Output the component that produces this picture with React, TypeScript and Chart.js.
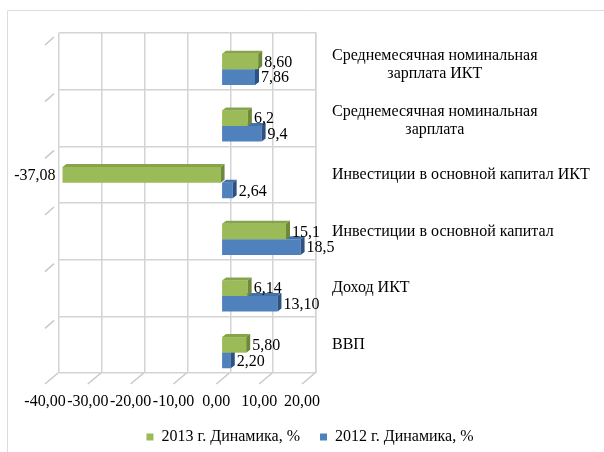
import { useEffect, useRef } from "react";
import { Chart, registerables } from "chart.js";

Chart.register(...registerables);

// ---- data ----
const CATEGORIES: string[][] = [
  ["Среднемесячная номинальная", "зарплата ИКТ"],
  ["Среднемесячная номинальная", "зарплата"],
  ["Инвестиции в основной капитал ИКТ"],
  ["Инвестиции в основной капитал"],
  ["Доход ИКТ"],
  ["ВВП"],
];
const SERIES_NAMES = ["2013 г. Динамика, %", "2012 г. Динамика, %"];
const SERIES_2013 = [8.6, 6.2, -37.08, 15.1, 6.14, 5.8];
const SERIES_2012 = [7.86, 9.4, 2.64, 18.5, 13.1, 2.2];
const LABELS_2013 = ["8,60", "6,2", "-37,08", "15,1", "6,14", "5,80"];
const LABELS_2012 = ["7,86", "9,4", "2,64", "18,5", "13,10", "2,20"];
const X_MIN = -40;
const X_MAX = 20;
const X_STEP = 10;

// ---- style ----
const FONT_FAMILY = "'Liberation Serif', 'Times New Roman', serif";
const FONT_SIZE = 16;
const TEXT_COLOR = "#000000";
const GRID_COLOR = "#d4d4d4";
const COLORS = [
  { front: "#9BBB59", top: "#86a44a", side: "#6e8a37" },
  { front: "#4F81BD", top: "#4471a6", side: "#2e5183" },
];
const SHIFT_X = -9;
const SHIFT_Y = 8;
const DEPTH_X = 4;
const DEPTH_Y = -3;

const frameAndTicksPlugin = {
  id: "frameAndTicks",
  beforeDraw(chart: any) {
    const ctx = chart.ctx;
    ctx.save();
    ctx.fillStyle = "#ffffff";
    ctx.fillRect(0, 0, chart.width, chart.height);
    ctx.strokeStyle = "#dcdcdc";
    ctx.lineWidth = 1;
    ctx.beginPath();
    ctx.moveTo(7.5, chart.height);
    ctx.lineTo(7.5, 10.5);
    ctx.lineTo(chart.width, 10.5);
    ctx.stroke();
    ctx.restore();
  },
  afterDraw(chart: any) {
    const ctx = chart.ctx;
    const xs = chart.scales.x;
    const ys = chart.scales.y;
    const area = chart.chartArea;
    ctx.save();
    ctx.strokeStyle = "#c8c8c8";
    ctx.lineWidth = 1.5;
    // diagonal ticks under value axis
    xs.ticks.forEach((_t: any, i: number) => {
      const px = xs.getPixelForTick(i);
      ctx.beginPath();
      ctx.moveTo(px - 1, area.bottom);
      ctx.lineTo(px - 14, area.bottom + 11);
      ctx.stroke();
    });
    // diagonal ticks at category boundaries (left side)
    const n = ys.ticks.length;
    const step = (area.bottom - area.top) / n;
    for (let i = 0; i < n; i++) {
      const yb = area.top + i * step;
      ctx.beginPath();
      ctx.moveTo(area.left - 5, yb + 4);
      ctx.lineTo(area.left - 14, yb + 12);
      ctx.stroke();
    }
    // category labels on the right
    ctx.fillStyle = TEXT_COLOR;
    ctx.font = `${FONT_SIZE}px ${FONT_FAMILY}`;
    ctx.textBaseline = "middle";
    const x0 = area.right + 16;
    const lineH = 18;
    CATEGORIES.forEach((lines, i) => {
      const yc = ys.getPixelForValue(i) + (lines.length > 1 ? 3 : 0);
      const y0 = yc - ((lines.length - 1) * lineH) / 2;
      const w0 = ctx.measureText(lines[0]).width;
      lines.forEach((ln, j) => {
        if (j === 0) {
          ctx.textAlign = "left";
          ctx.fillText(ln, x0, y0);
        } else {
          ctx.textAlign = "center";
          ctx.fillText(ln, x0 + w0 / 2, y0 + j * lineH);
        }
      });
    });
    ctx.restore();
  },
};

const depthPlugin = {
  id: "depthBars",
  beforeDatasetDraw(chart: any) {
    chart.ctx.save();
    chart.ctx.translate(SHIFT_X, SHIFT_Y);
  },
  afterDatasetDraw(chart: any, args: any) {
    const ctx = chart.ctx;
    const col = COLORS[args.index];
    args.meta.data.forEach((el: any) => {
      const { x, y, base, height } = el.getProps(["x", "y", "base", "height"], true);
      const left = Math.min(x, base);
      const right = Math.max(x, base);
      const top = y - height / 2;
      const bottom = y + height / 2;
      ctx.fillStyle = col.top;
      ctx.beginPath();
      ctx.moveTo(left, top);
      ctx.lineTo(right, top);
      ctx.lineTo(right + DEPTH_X, top + DEPTH_Y);
      ctx.lineTo(left + DEPTH_X, top + DEPTH_Y);
      ctx.closePath();
      ctx.fill();
      ctx.fillStyle = col.side;
      ctx.beginPath();
      ctx.moveTo(right, top);
      ctx.lineTo(right + DEPTH_X, top + DEPTH_Y);
      ctx.lineTo(right + DEPTH_X, bottom + DEPTH_Y);
      ctx.lineTo(right, bottom);
      ctx.closePath();
      ctx.fill();
    });
    ctx.restore();
  },
  afterDatasetsDraw(chart: any) {
    const ctx = chart.ctx;
    const labelSets = [LABELS_2013, LABELS_2012];
    ctx.save();
    ctx.translate(SHIFT_X, SHIFT_Y);
    ctx.font = `${FONT_SIZE}px ${FONT_FAMILY}`;
    ctx.fillStyle = TEXT_COLOR;
    ctx.textBaseline = "middle";
    chart.data.datasets.forEach((_ds: any, di: number) => {
      const meta = chart.getDatasetMeta(di);
      meta.data.forEach((el: any, i: number) => {
        const { x, y, base } = el.getProps(["x", "y", "base"], true);
        const txt = labelSets[di][i];
        if (x >= base) {
          ctx.textAlign = "left";
          ctx.fillText(txt, x + 6, y + 1);
        } else {
          ctx.textAlign = "right";
          ctx.fillText(txt, x - 7, y + 1);
        }
      });
    });
    ctx.restore();
  },
};

export default function App() {
  const ref = useRef<HTMLCanvasElement | null>(null);
  useEffect(() => {
    if (!ref.current) return;
    const font = { family: FONT_FAMILY, size: FONT_SIZE };
    const chart = new Chart(ref.current, {
      type: "bar",
      data: {
        labels: CATEGORIES.map((c) => c.join(" ")),
        datasets: [
          {
            label: SERIES_NAMES[0],
            data: SERIES_2013,
            backgroundColor: COLORS[0].front,
            categoryPercentage: 0.55,
            barPercentage: 1,
            clip: false as any,
          },
          {
            label: SERIES_NAMES[1],
            data: SERIES_2012,
            backgroundColor: COLORS[1].front,
            categoryPercentage: 0.55,
            barPercentage: 1,
            clip: false as any,
          },
        ],
      },
      options: {
        indexAxis: "y",
        responsive: false,
        animation: false,
        layout: { padding: { left: 16, top: 33, right: 0, bottom: -3 } },
        plugins: {
          tooltip: { enabled: false },
          legend: {
            position: "bottom",
            labels: {
              font,
              color: TEXT_COLOR,
              boxWidth: 7,
              boxHeight: 7,
              padding: 20,
            },
          },
        },
        scales: {
          x: {
            type: "linear",
            min: X_MIN,
            max: X_MAX,
            grid: { color: GRID_COLOR, lineWidth: 1.5, drawTicks: false },
            border: { display: false },
            ticks: {
              stepSize: X_STEP,
              autoSkip: false,
              maxRotation: 0,
              font,
              color: TEXT_COLOR,
              padding: 19,
              labelOffset: -14,
              callback: (v: any) => Number(v).toFixed(2).replace(".", ","),
            },
            afterFit(s: any) {
              const lh = s.chart.legend && s.chart.legend.height ? s.chart.legend.height : 46;
              s.height = 455 - 373 - lh;
            },
          },
          y: {
            type: "category",
            position: "right",
            grid: { color: GRID_COLOR, lineWidth: 1.5, drawTicks: false, offset: true },
            border: { display: true, color: GRID_COLOR, width: 1.5 },
            ticks: { display: false },
            afterFit(s: any) {
              s.width = 604 - 316;
            },
          },
          yLeft: {
            type: "linear",
            axis: "y",
            position: "left",
            display: true,
            grid: { display: false, drawTicks: false },
            border: { display: false },
            ticks: { display: false },
            afterFit(s: any) {
              s.width = 59 - 16;
            },
          } as any,
        },
      } as any,
      plugins: [frameAndTicksPlugin, depthPlugin],
    });
    return () => chart.destroy();
  }, []);
  return (
    <div style={{ position: "absolute", left: 0, top: 0, width: 604, height: 452 }}>
      <canvas ref={ref} width={604} height={452} style={{ display: "block" }} />
    </div>
  );
}
